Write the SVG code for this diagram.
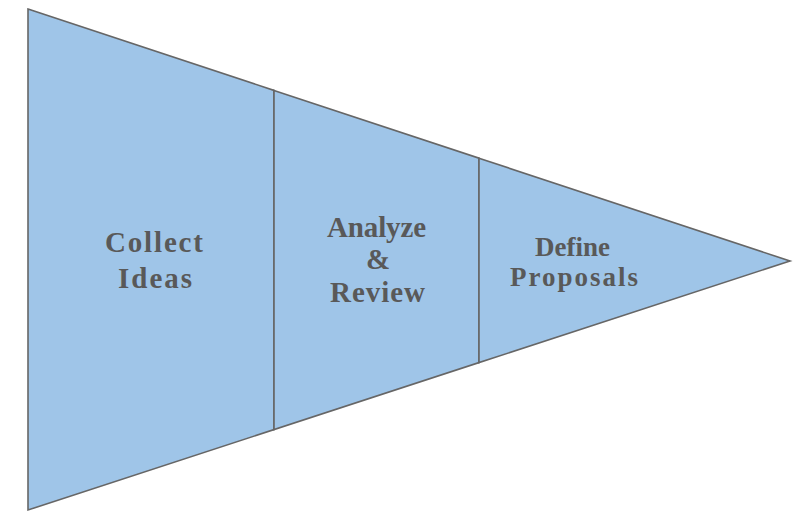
<svg xmlns="http://www.w3.org/2000/svg" width="794" height="512" viewBox="0 0 794 512">
  <style>
    .stage { fill: #9fc5e8; stroke: #666666; stroke-width: 1.6; stroke-linejoin: miter; }
    .lbl { font-family: "Liberation Serif", "DejaVu Serif", serif; font-weight: bold; font-size: 29px; fill: #595959; text-anchor: middle; }
    .sm { font-size: 27px; }
  </style>
  <rect width="794" height="512" fill="#ffffff"/>
  <g id="stage-collect">
    <polygon class="stage" points="28,9 274,90.4 274,429.6 28,510"/>
    <text class="lbl" x="154" y="252" textLength="98">Collect</text>
    <text class="lbl" x="155" y="288" textLength="74">Ideas</text>
  </g>
  <g id="stage-analyze">
    <polygon class="stage" points="274,90.4 479,158.2 479,362.6 274,429.6"/>
    <text class="lbl" x="376.5" y="236.5" textLength="99">Analyze</text>
    <text class="lbl" x="378" y="268.5">&amp;</text>
    <text class="lbl" x="377.5" y="301.5" textLength="95">Review</text>
  </g>
  <g id="stage-define">
    <polygon class="stage" points="479,158.2 790,261 479,362.6"/>
    <text class="lbl sm" x="572.5" y="256" textLength="75">Define</text>
    <text class="lbl sm" x="574" y="285.5" textLength="128">Proposals</text>
  </g>
  <g id="connectors"></g>
</svg>
